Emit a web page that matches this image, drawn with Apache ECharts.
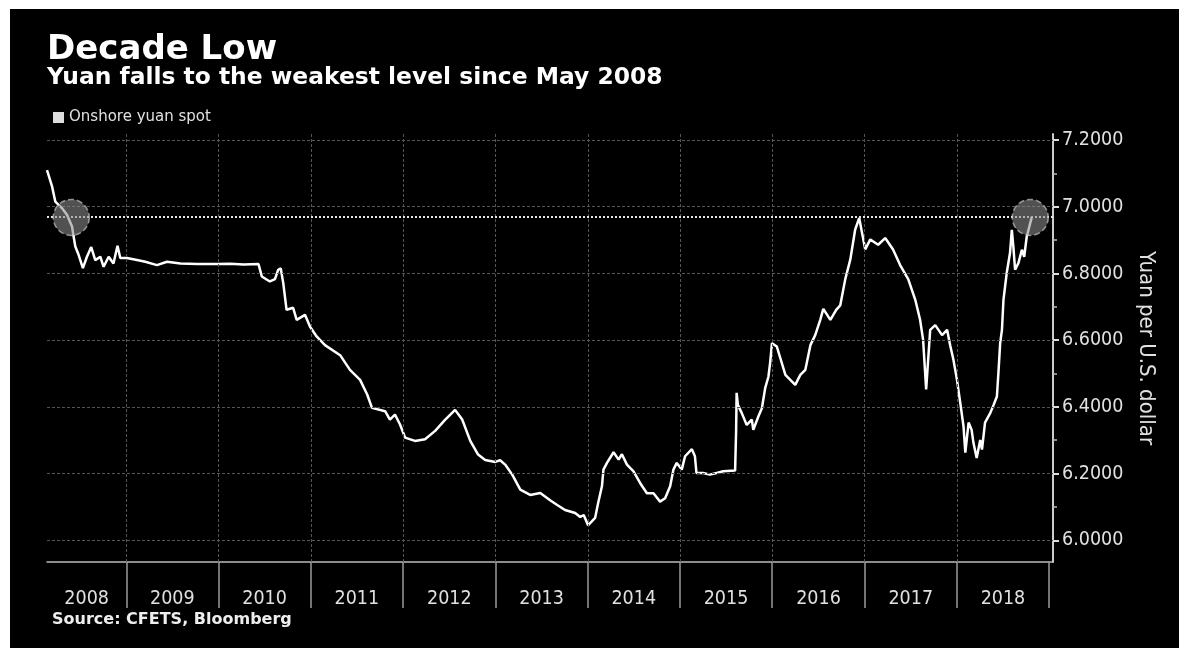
<!DOCTYPE html>
<html>
<head>
<meta charset="utf-8">
<script src="https://cdn.jsdelivr.net/npm/echarts@6/dist/echarts.min.js"></script>
<style>
html,body{margin:0;padding:0;background:#fff;width:1179px;height:648px;overflow:hidden}
#bg{position:absolute;left:10px;top:9px;right:0;bottom:0;background:#000}
#chart{position:absolute;left:0;top:0;width:1179px;height:648px}
</style>
</head>
<body>
<div id="bg"></div>
<div id="chart"></div>
<script>
// ---- data ----
const dates = [
'2008-02-22','2008-03-13','2008-03-26','2008-04-21','2008-05-11','2008-05-31','2008-06-06','2008-06-13','2008-06-26','2008-07-13',
'2008-07-29','2008-08-15','2008-08-31','2008-09-20','2008-10-03','2008-10-23','2008-11-11','2008-11-27','2008-12-08','2009-01-03',
'2009-02-12','2009-03-17','2009-05-02','2009-06-11','2009-08-03','2009-10-08','2009-12-26','2010-02-16','2010-04-10','2010-06-08',
'2010-06-21','2010-07-23','2010-08-12','2010-08-25','2010-09-04','2010-09-14','2010-09-27','2010-10-23','2010-11-06','2010-12-09',
'2010-12-29','2011-01-24','2011-02-26','2011-04-27','2011-06-05','2011-07-15','2011-08-12','2011-08-31','2011-10-22','2011-11-10',
'2011-11-30','2011-12-20','2012-01-09','2012-02-17','2012-03-28','2012-05-07','2012-06-16','2012-07-25','2012-08-22','2012-09-23',
'2012-10-24','2012-11-21','2012-12-31','2013-01-19','2013-02-08','2013-03-08','2013-04-09','2013-05-18','2013-06-27','2013-08-05',
'2013-09-02','2013-10-03','2013-11-12','2013-12-02','2013-12-16','2014-01-02','2014-01-30','2014-02-11','2014-02-26','2014-03-04',
'2014-03-18','2014-04-13','2014-05-03','2014-05-16','2014-06-05','2014-07-01','2014-07-27','2014-08-23','2014-09-18','2014-10-14',
'2014-11-03','2014-11-23','2014-12-06','2014-12-19','2015-01-08','2015-01-21','2015-02-17','2015-03-01','2015-03-07','2015-04-03',
'2015-04-29','2015-05-26','2015-06-21','2015-08-07','2015-08-11','2015-08-13','2015-08-18','2015-09-02','2015-09-22','2015-10-12',
'2015-10-18','2015-11-07','2015-11-21','2015-12-04','2015-12-17','2015-12-24','2015-12-31','2016-01-19','2016-02-22','2016-04-01',
'2016-04-21','2016-05-11','2016-05-31','2016-06-19','2016-07-09','2016-07-21','2016-08-18','2016-09-10','2016-09-26','2016-10-16',
'2016-11-05','2016-11-24','2016-12-10','2017-01-03','2017-01-23','2017-02-23','2017-03-23','2017-04-23','2017-05-21','2017-06-22',
'2017-07-20','2017-08-08','2017-08-20','2017-09-01','2017-09-17','2017-10-07','2017-11-03','2017-11-23','2017-12-05','2017-12-18',
'2018-01-01','2018-01-14','2018-01-27','2018-02-03','2018-02-16','2018-02-28','2018-03-07','2018-03-20','2018-04-03','2018-04-10',
'2018-04-22','2018-05-13','2018-05-26','2018-06-08','2018-06-14','2018-06-21','2018-06-28','2018-07-04','2018-07-17','2018-07-30',
'2018-08-06','2018-08-12','2018-08-19','2018-09-01','2018-09-15','2018-09-24','2018-10-04','2018-10-24'
];
const values = [
7.110,7.061,7.015,6.996,6.976,6.941,6.912,6.881,6.856,6.816,
6.850,6.879,6.840,6.850,6.820,6.850,6.830,6.883,6.846,6.846,
6.840,6.835,6.825,6.835,6.830,6.828,6.828,6.829,6.827,6.828,
6.791,6.776,6.783,6.811,6.815,6.771,6.691,6.697,6.661,6.676,
6.640,6.611,6.585,6.555,6.511,6.481,6.437,6.397,6.387,6.362,
6.377,6.347,6.308,6.298,6.303,6.328,6.362,6.391,6.362,6.298,
6.257,6.241,6.235,6.240,6.227,6.197,6.152,6.136,6.142,6.120,
6.106,6.091,6.082,6.070,6.076,6.045,6.067,6.112,6.162,6.212,
6.232,6.264,6.242,6.258,6.227,6.207,6.172,6.141,6.141,6.116,
6.126,6.162,6.212,6.232,6.212,6.252,6.273,6.252,6.202,6.202,
6.197,6.202,6.207,6.209,6.328,6.442,6.406,6.382,6.346,6.362,
6.331,6.371,6.396,6.456,6.491,6.535,6.591,6.581,6.496,6.466,
6.496,6.511,6.585,6.615,6.661,6.694,6.661,6.691,6.704,6.783,
6.842,6.931,6.966,6.872,6.902,6.886,6.906,6.872,6.825,6.783,
6.721,6.661,6.601,6.452,6.631,6.645,6.615,6.631,6.585,6.541,
6.481,6.412,6.341,6.263,6.353,6.331,6.293,6.247,6.301,6.272,
6.353,6.382,6.406,6.431,6.502,6.592,6.631,6.721,6.802,6.862,
6.931,6.881,6.811,6.831,6.871,6.850,6.910,6.969
];
const seriesName = 'Onshore yuan spot';
const yTicks = [6.0, 6.2, 6.4, 6.6, 6.8, 7.0, 7.2];
const yMinorTicks = [6.1, 6.3, 6.5, 6.7, 6.9, 7.1];
const yearBoundaries = ['2009-01-01','2010-01-01','2011-01-01','2012-01-01','2013-01-01','2014-01-01','2015-01-01','2016-01-01','2017-01-01','2018-01-01','2019-01-01'];
const yearLabelDates = ['2008-07-28','2009-07-02','2010-07-02','2011-07-02','2012-07-02','2013-07-02','2014-07-02','2015-07-02','2016-07-02','2017-07-02','2018-07-02'];
const levelNow = 6.968;
const highlightDates = ['2008-05-28','2018-10-18'];
const xMin = '2008-02-22', xMax = '2019-01-16';
const yMin = 5.935, yMax = 7.218;

// ---- chart ----
const toTs = s => { const p = s.split('-'); return new Date(+p[0], +p[1]-1, +p[2]).getTime(); };
const COND = "'DejaVu Sans Condensed', 'DejaVu Sans', sans-serif";
const SANS = "'DejaVu Sans', sans-serif";

const chart = echarts.init(document.getElementById('chart'), null, {renderer: 'canvas'});
chart.setOption({
  animation: false,
  backgroundColor: 'transparent',
  title: [
    {text: 'Decade Low', left: 47, top: 33, padding: 0,
     textStyle: {color: '#fff', fontSize: 34, fontWeight: 'bold', fontFamily: SANS}},
    {text: 'Yuan falls to the weakest level since May 2008', left: 47, top: 66, padding: 0,
     textStyle: {color: '#fff', fontSize: 23.4, fontWeight: 'bold', fontFamily: SANS}},
    {text: 'Source: CFETS, Bloomberg', left: 52, top: 612, padding: 0,
     textStyle: {color: '#eee', fontSize: 16, fontWeight: 'bold', fontFamily: SANS}}
  ],
  legend: {
    left: 53, top: 110, padding: 0, icon: 'rect', itemWidth: 11, itemHeight: 11,
    selectedMode: false,
    data: [{name: seriesName, itemStyle: {color: '#ddd'}}],
    textStyle: {color: '#e0e0e0', fontSize: 15, fontFamily: SANS}
  },
  grid: {left: 47, right: 126, top: 134, bottom: 86, containLabel: false, outerBoundsMode: 'none'},
  xAxis: [{
    type: 'value', min: toTs(xMin), max: toTs(xMax), scale: true,
    axisLine: {show: true, lineStyle: {color: '#bbb', width: 1.5}},
    axisTick: {show: true, customValues: yearBoundaries.map(toTs), length: 46,
               lineStyle: {color: '#999', width: 1.5}},
    axisLabel: {customValues: yearLabelDates.map(toTs),
                formatter: v => String(new Date(v).getFullYear()),
                color: '#e0e0e0', fontSize: 19.5, fontFamily: COND, margin: 27},
    splitLine: {show: false}
  }],
  yAxis: [{
    type: 'value', position: 'right', min: yMin, max: yMax,
    axisLine: {show: true, lineStyle: {color: '#ccc', width: 2}},
    axisTick: {show: true, customValues: yTicks, length: 6, lineStyle: {color: '#ddd', width: 2}},
    axisLabel: {customValues: yTicks, formatter: v => Number(v).toFixed(4),
                color: '#e0e0e0', fontSize: 19.5, fontFamily: COND, margin: 9},
    splitLine: {show: false},
    name: 'Yuan per U.S. dollar', nameLocation: 'middle', nameRotate: -90, nameGap: 78,
    nameTextStyle: {color: '#e0e0e0', fontSize: 22, fontFamily: COND}
  }, {
    type: 'value', position: 'right', min: yMin, max: yMax,
    axisLine: {show: false}, axisLabel: {show: false}, splitLine: {show: false},
    axisTick: {show: true, customValues: yMinorTicks, length: 4, lineStyle: {color: '#bbb', width: 1.5}}
  }],
  series: [
    {
      name: 'grid', type: 'line', data: [], silent: true, z: 1,
      markLine: {
        silent: true, symbol: ['none', 'none'], label: {show: false},
        lineStyle: {color: '#555', type: [3, 2], width: 1},
        data: yTicks.map(v => ({yAxis: v})).concat(
              yearBoundaries.slice(0, -1).map(d => ({xAxis: toTs(d)})))
      }
    },
    {
      name: seriesName, type: 'line', z: 3,
      showSymbol: false, symbol: 'none',
      lineStyle: {color: '#fff', width: 2.5},
      itemStyle: {color: '#fff'},
      data: dates.map((d, i) => [toTs(d), values[i]]),
      markLine: {
        silent: true, symbol: ['none', 'none'], label: {show: false},
        lineStyle: {color: '#e6e6e6', type: [2, 2], width: 2},
        data: [{yAxis: levelNow}]
      }
    },
    {
      name: 'highlight', type: 'scatter', z: 5, silent: true,
      symbolSize: 36,
      itemStyle: {color: 'rgba(140,140,140,0.72)', borderColor: 'rgba(200,200,200,0.85)',
                  borderType: 'dashed', borderWidth: 1.5},
      data: highlightDates.map(d => [toTs(d), levelNow])
    }
  ]
});
</script>
</body>
</html>
